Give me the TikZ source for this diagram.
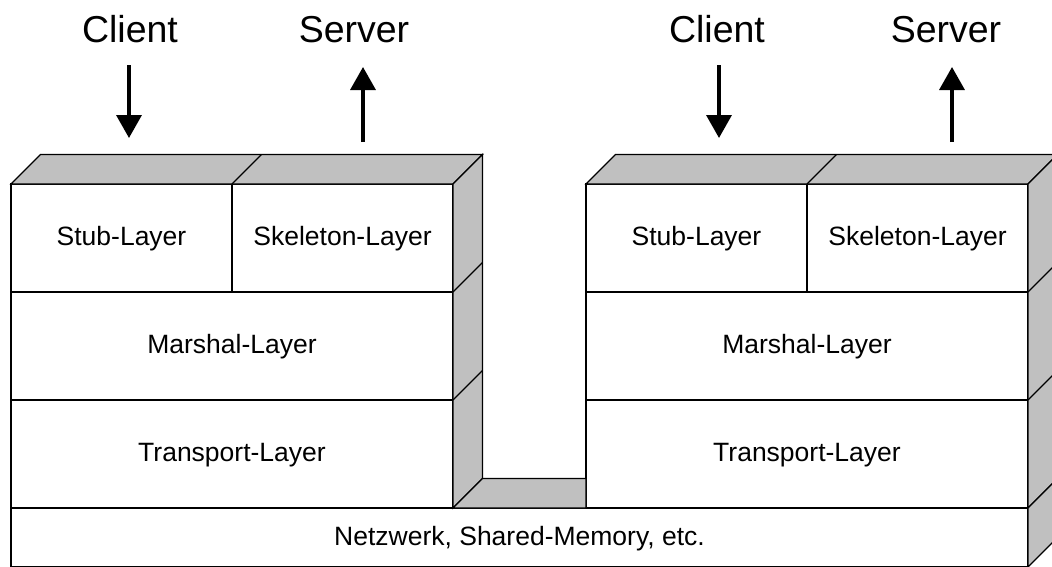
\documentclass[tikz,border=0pt]{standalone}
\usepackage{fontspec}
\setmainfont{Liberation Sans}
\usetikzlibrary{arrows.meta}
\definecolor{face}{HTML}{C0C0C0}
\tikzset{
  layer/.style={draw, fill=white, line width=1.2pt, inner sep=0pt, outer sep=0pt,
    anchor=north west, font=\fontsize{26.5}{30}\selectfont,
    text height=15pt, text depth=0pt},
  shade/.style={fill=face, draw, line width=1.2pt},
  edge/.style={line width=1.2pt},
  role/.style={font=\fontsize{37.5}{42}\selectfont, anchor=base, inner sep=0pt},
  flow/.style={line width=3.5pt, -{Triangle[length=23pt,width=25pt]}},
  back/.style={shift={(29.5,-29.5)}}
}
\begin{document}
\begin{tikzpicture}[x=1pt,y=-1pt]
\useasboundingbox (0,0) rectangle (1052,566);
\clip (0,0) rectangle (1052,566);

% bottom layer shared by both stacks
\node[layer, minimum width=1017pt, minimum height=59pt] (net) at (11,508) {Netzwerk, Shared-Memory, etc.};

% left stack
\node[layer, minimum width=221pt, minimum height=108pt] (stubL)  at (11,184)  {Stub-Layer};
\node[layer, minimum width=221pt, minimum height=108pt] (skelL)  at (232,184) {Skeleton-Layer};
\node[layer, minimum width=442pt, minimum height=108pt] (marshL) at (11,292)  {Marshal-Layer};
\node[layer, minimum width=442pt, minimum height=108pt] (transL) at (11,400)  {Transport-Layer};

% right stack
\node[layer, minimum width=221pt, minimum height=108pt] (stubR)  at (586,184) {Stub-Layer};
\node[layer, minimum width=221pt, minimum height=108pt] (skelR)  at (807,184) {Skeleton-Layer};
\node[layer, minimum width=442pt, minimum height=108pt] (marshR) at (586,292) {Marshal-Layer};
\node[layer, minimum width=442pt, minimum height=108pt] (transR) at (586,400) {Transport-Layer};

% top and side faces of the left stack
\draw[shade] (stubL.north west) -- ([back]stubL.north west) -- ([back]skelL.north east) -- (skelL.north east) -- cycle;
\draw[edge] (skelL.north west) -- ([back]skelL.north west);
\draw[shade] (skelL.north east) -- ([back]skelL.north east) -- ([back]transL.south east) -- (transL.south east) -- cycle;
\draw[edge] (marshL.north east) -- ([back]marshL.north east);
\draw[edge] (transL.north east) -- ([back]transL.north east);

% top and side faces of the right stack
\draw[shade] (stubR.north west) -- ([back]stubR.north west) -- ([back]skelR.north east) -- (skelR.north east) -- cycle;
\draw[edge] (skelR.north west) -- ([back]skelR.north west);
\draw[shade] (skelR.north east) -- ([back]skelR.north east) -- ([back]transR.south east) -- (transR.south east) -- cycle;
\draw[edge] (marshR.north east) -- ([back]marshR.north east);
\draw[edge] (transR.north east) -- ([back]transR.north east);

% visible top face of the bottom layer between the stacks, and its side face
\coordinate (gapL) at ([back]transL.south east);
\draw[shade] (transL.south east) -- (gapL) -- (gapL -| transR.south west) -- (transR.south west) -- cycle;
\draw[shade] (net.north east) -- ([back]net.north east) -- ([back]net.south east) -- (net.south east) -- cycle;

% roles and call directions
\node[role] (clientL) at (130,42) {Client};
\node[role] (serverL) at (354,42) {Server};
\node[role] (clientR) at (717,42) {Client};
\node[role] (serverR) at (946,42) {Server};

\coordinate (cLtop) at (129,65);  \coordinate (cLbot) at (129,138);
\coordinate (sLbot) at (363,142); \coordinate (sLtop) at (363,67);
\coordinate (cRtop) at (719,65);  \coordinate (cRbot) at (719,138);
\coordinate (sRbot) at (952,142); \coordinate (sRtop) at (952,67);

\draw[flow] (cLtop) -- (cLbot);
\draw[flow] (sLbot) -- (sLtop);
\draw[flow] (cRtop) -- (cRbot);
\draw[flow] (sRbot) -- (sRtop);
\end{tikzpicture}
\end{document}
